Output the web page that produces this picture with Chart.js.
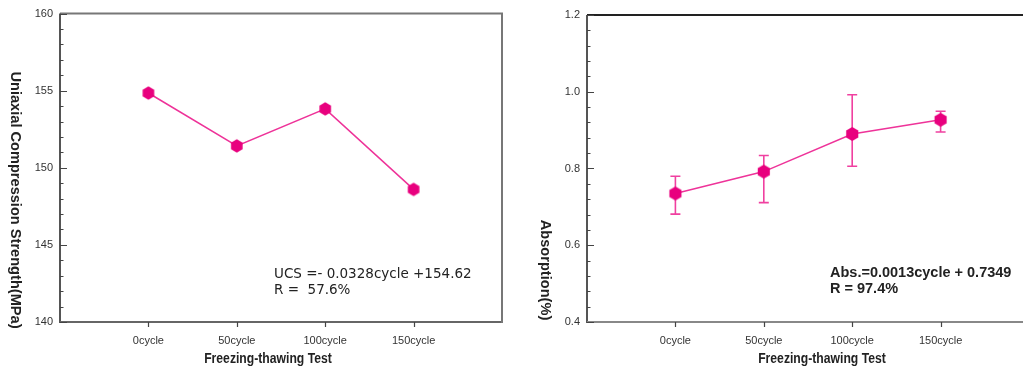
<!DOCTYPE html>
<html><head><meta charset="utf-8">
<script src="https://cdn.jsdelivr.net/npm/chart.js@4.4.1/dist/chart.umd.min.js"></script>
<style>
html,body{margin:0;padding:0;background:#fff;overflow:hidden;width:1023px;height:370px;}
.box{position:absolute;top:0;}
</style></head>
<body>
<div class="box" style="left:0;width:512px;height:370px"><canvas id="c1" width="512" height="370"></canvas></div>
<div class="box" style="left:512px;width:530px;height:370px"><canvas id="c2" width="530" height="370"></canvas></div>
<script>
// ---- data ----
const cycles = [0, 50, 100, 150];
const xLabels = ['0cycle', '50cycle', '100cycle', '150cycle'];
const ucs = [154.85, 151.42, 153.82, 148.6];
const absorption = [0.735, 0.792, 0.890, 0.927];
const absUpper = [0.780, 0.834, 0.992, 0.949];
const absLower = [0.681, 0.711, 0.806, 0.895];
const ucsTicks = [140, 145, 150, 155, 160];
const absTicks = [0.4, 0.6, 0.8, 1.0, 1.2];

const MAG = '#E8007E';
const LINE = '#EE3399';

function hexImage(r, color) {
  const s = Math.ceil(r * 2) + 2;
  const c = document.createElement('canvas');
  c.width = s; c.height = s;
  const g = c.getContext('2d');
  g.fillStyle = color;
  g.beginPath();
  for (let i = 0; i < 6; i++) {
    const a = (-90 + 60 * i) * Math.PI / 180;
    const x = s / 2 + r * Math.cos(a), y = s / 2 + r * Math.sin(a);
    i ? g.lineTo(x, y) : g.moveTo(x, y);
  }
  g.closePath(); g.fill();
  return c;
}

const decor = {
  id: 'decor',
  beforeDatasetsDraw(chart, args, o) {
    if (!o.err) return;
    const g = chart.ctx, xs = chart.scales.x, ys = chart.scales.y;
    g.save();
    g.strokeStyle = o.err.color; g.lineWidth = 1.6;
    o.err.x.forEach((xv, i) => {
      const px = xs.getPixelForValue(xv);
      const pt = ys.getPixelForValue(o.err.hi[i]);
      const pb = ys.getPixelForValue(o.err.lo[i]);
      g.beginPath();
      g.moveTo(px, pt); g.lineTo(px, pb);
      g.moveTo(px - 5, pt); g.lineTo(px + 5, pt);
      g.moveTo(px - 5, pb); g.lineTo(px + 5, pb);
      g.stroke();
    });
    g.restore();
  },
  afterDraw(chart, args, o) {
    const g = chart.ctx, a = chart.chartArea, xs = chart.scales.x, ys = chart.scales.y;
    g.save();
    // frame
    g.lineWidth = 2;
    g.strokeStyle = o.topColor;
    g.beginPath(); g.moveTo(a.left, a.top); g.lineTo(a.right + 1, a.top); g.stroke();
    g.strokeStyle = o.leftColor;
    g.beginPath(); g.moveTo(a.left, a.top); g.lineTo(a.left, a.bottom + 1); g.stroke();
    g.strokeStyle = o.bottomColor;
    g.beginPath(); g.moveTo(a.left, a.bottom); g.lineTo(a.right + 1, a.bottom); g.stroke();
    if (o.rightColor) {
      g.strokeStyle = o.rightColor;
      g.beginPath(); g.moveTo(a.right, a.top); g.lineTo(a.right, a.bottom + 1); g.stroke();
    }
    // y ticks (inward)
    g.strokeStyle = '#444'; g.lineWidth = 1;
    const n = Math.round((ys.max - ys.min) / o.minor);
    for (let i = 0; i <= n; i++) {
      const v = ys.min + i * o.minor;
      const py = Math.round(ys.getPixelForValue(v)) + 0.5;
      const len = (i % 5 === 0) ? 7 : 3.5;
      g.beginPath(); g.moveTo(a.left, py); g.lineTo(a.left + len, py); g.stroke();
    }
    // x ticks (outward)
    g.lineWidth = 1.2;
    cycles.forEach(c => {
      const px = Math.round(xs.getPixelForValue(c)) + 0.5;
      g.beginPath(); g.moveTo(px, a.bottom); g.lineTo(px, a.bottom + 5); g.stroke();
    });
    // titles
    g.fillStyle = '#222';
    g.textAlign = 'center'; g.textBaseline = 'middle';
    g.save();
    g.translate(a.left + o.xTitleDx, o.xTitleY);
    g.scale(0.84, 1);
    g.font = 'bold 14.5px "Liberation Sans", Arial, sans-serif';
    g.fillText(o.xTitle, 0, 0);
    g.restore();
    g.save();
    g.translate(o.yTitleX, o.yTitleY);
    g.rotate(Math.PI / 2);
    g.font = 'bold 14.6px "Liberation Sans", Arial, sans-serif';
    g.fillText(o.yTitle, 0, 0);
    g.restore();
    // annotation
    g.font = o.noteFont;
    g.textAlign = 'left'; g.textBaseline = 'alphabetic';
    o.note.forEach((t, i) => g.fillText(t, o.noteX, o.noteY + i * 15.5));
    g.restore();
  }
};

function makeChart(id, values, yMin, yMax, yTicks, yFmt, hexR, pad, yWidth, extra) {
  return new Chart(document.getElementById(id), {
    type: 'line',
    data: {
      datasets: [{
        data: cycles.map((c, i) => ({ x: c, y: values[i] })),
        borderColor: LINE, borderWidth: 1.5,
        pointStyle: hexImage(hexR, MAG),
        pointRadius: hexR, pointHoverRadius: hexR,
        tension: 0, fill: false
      }]
    },
    options: {
      responsive: false, animation: false, devicePixelRatio: 1,
      layout: { padding: pad },
      plugins: { legend: { display: false }, tooltip: { enabled: false }, decor: extra },
      scales: {
        x: {
          type: 'linear', min: -50, max: 200,
          afterBuildTicks: s => { s.ticks = cycles.map(v => ({ value: v })); },
          afterFit: s => { s.height = 48; },
          grid: { display: false, drawTicks: false }, border: { display: false },
          ticks: {
            padding: 12, color: '#333', maxRotation: 0,
            font: { family: '"Liberation Sans", Arial, sans-serif', size: 11 },
            callback: v => xLabels[cycles.indexOf(v)]
          }
        },
        y: {
          min: yMin, max: yMax,
          afterBuildTicks: s => { s.ticks = yTicks.map(v => ({ value: v })); },
          afterFit: s => { s.width = yWidth; },
          grid: { display: false, drawTicks: false }, border: { display: false },
          ticks: {
            padding: 7, color: '#333',
            font: { family: '"Liberation Sans", Arial, sans-serif', size: 11 },
            callback: yFmt
          }
        }
      }
    },
    plugins: [decor]
  });
}

makeChart('c1', ucs, 140, 160, ucsTicks, v => String(v), 6.7,
  { top: 13, right: 10, left: 0, bottom: 0 }, 60, {
    minor: 1,
    topColor: '#777', leftColor: '#555', bottomColor: '#666', rightColor: '#777',
    xTitle: 'Freezing-thawing Test', xTitleDx: 208, xTitleY: 359,
    yTitle: 'Uniaxial Compression Strength(MPa)', yTitleX: 15, yTitleY: 200,
    noteFont: '13.5px "DejaVu Sans", sans-serif',
    note: ['UCS =- 0.0328cycle +154.62', 'R =  57.6%'], noteX: 274, noteY: 278
  });

makeChart('c2', absorption, 0.4, 1.2, absTicks, v => v.toFixed(1), 7,
  { top: 15, right: 13, left: 0, bottom: 0 }, 75, {
    minor: 0.04,
    topColor: '#222', leftColor: '#555', bottomColor: '#888', rightColor: null,
    xTitle: 'Freezing-thawing Test', xTitleDx: 235, xTitleY: 359,
    yTitle: 'Absorption(%)', yTitleX: 33, yTitleY: 270,
    noteFont: 'bold 14.5px "Liberation Sans", Arial, sans-serif',
    note: ['Abs.=0.0013cycle + 0.7349', 'R = 97.4%'], noteX: 318, noteY: 277,
    err: { x: cycles, hi: absUpper, lo: absLower, color: '#F040A0' }
  });
</script>
</body></html>
